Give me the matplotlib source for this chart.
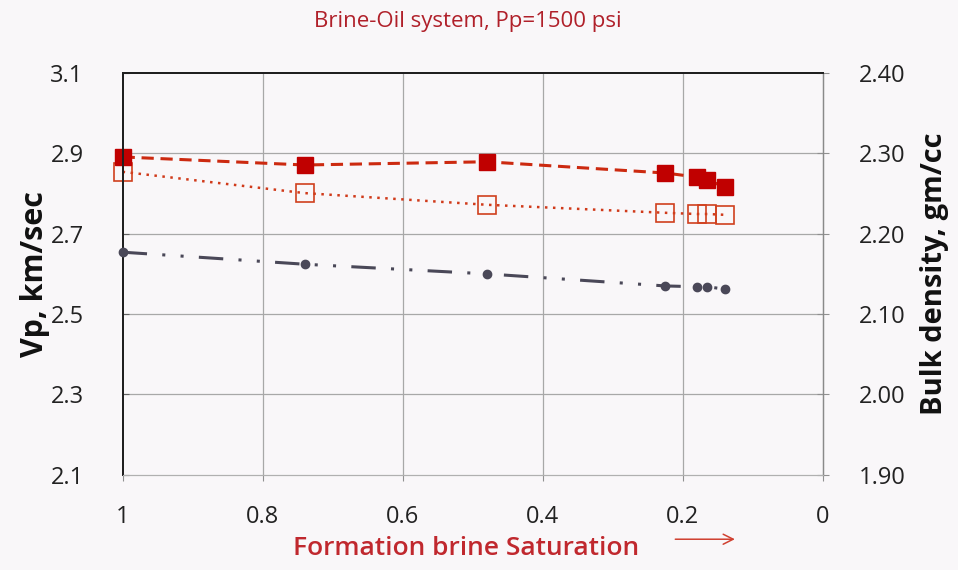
import matplotlib
matplotlib.use("Agg")
import matplotlib.pyplot as plt

plt.rcParams['font.family'] = ['Open Sans', 'DejaVu Sans']

# Formation brine saturation (fraction)
saturation = [1.0, 0.74, 0.48, 0.225, 0.18, 0.165, 0.14]
# P-wave velocity, measured (km/sec)
vp_measured = [2.891, 2.871, 2.879, 2.851, 2.841, 2.834, 2.816]
# P-wave velocity, predicted (km/sec)
vp_predicted = [2.854, 2.801, 2.772, 2.752, 2.749, 2.749, 2.747]
# Bulk density (gm/cc)
bulk_density = [2.177, 2.162, 2.150, 2.135, 2.134, 2.134, 2.131]

x_ticks = [1, 0.8, 0.6, 0.4, 0.2, 0]
x_ticklabels = ['1', '0.8', '0.6', '0.4', '0.2', '0']
vp_ticks = [2.1, 2.3, 2.5, 2.7, 2.9, 3.1]
rho_ticks = [1.90, 2.00, 2.10, 2.20, 2.30, 2.40]

bg = '#f9f7f9'
fig = plt.figure(figsize=(9.58, 5.70), dpi=100, facecolor=bg)
ax = fig.add_axes([0.128, 0.167, 0.731, 0.705], facecolor=bg)
ax2 = ax.twinx()

ax.set_xlim(1, 0)
ax.set_ylim(2.1, 3.1)
ax2.set_ylim(1.90, 2.40)

# grid
for v in [0.8, 0.6, 0.4, 0.2]:
    ax.axvline(v, color='#a8a8a8', lw=0.9, zorder=0)
for v in [2.3, 2.5, 2.7, 2.9]:
    ax.axhline(v, color='#a8a8a8', lw=0.9, zorder=0)

ax.plot(saturation, vp_measured, linestyle=(0, (4, 2.2)), color='#cc2a10', lw=2.2,
        marker='s', markersize=12, markerfacecolor='#c00000', markeredgecolor='#c00000',
        zorder=4, clip_on=False)
ax.plot(saturation, vp_predicted, linestyle=(0, (1, 2.2)), color='#d03a1a', lw=1.8,
        marker='s', markersize=13, markerfacecolor='none', markeredgecolor='#d0401e',
        markeredgewidth=1.2, zorder=3, clip_on=False)
ax2.plot(saturation, bulk_density, linestyle=(0, (8, 5, 1, 5, 1, 5)), color='#4a4858', lw=2.2,
         marker='o', markersize=6, markerfacecolor='#4a4858', markeredgecolor='#4a4858',
         zorder=3, clip_on=False)

ax.set_xticks(x_ticks)
ax.set_xticklabels(x_ticklabels)
ax.set_yticks(vp_ticks)
ax.set_yticklabels([f'{v:.1f}' for v in vp_ticks])
ax2.set_yticks(rho_ticks)
ax2.set_yticklabels([f'{v:.2f}' for v in rho_ticks])

ax.tick_params(axis='x', direction='out', length=4, width=0.8, color='#909090',
               labelsize=17, pad=18, labelcolor='#222222')
ax.tick_params(axis='y', direction='in', length=4, width=0.8, color='#606060',
               labelsize=17, pad=28, labelcolor='#222222')
ax2.tick_params(axis='y', direction='inout', length=8, width=0.8, color='#909090',
                labelsize=17, pad=22, labelcolor='#222222')

for a in (ax, ax2):
    a.spines['left'].set_color('#202020')
    a.spines['left'].set_linewidth(1.4)
    a.spines['top'].set_color('#202020')
    a.spines['top'].set_linewidth(1.4)
    a.spines['right'].set_color('#8a8a8a')
    a.spines['right'].set_linewidth(0.9)
    a.spines['bottom'].set_color('#b0b0b0')
    a.spines['bottom'].set_linewidth(0.8)

ax.set_ylabel('Vp, km/sec', fontsize=22, fontweight='bold', color='#111111', labelpad=0)
ax2.set_ylabel('Bulk density, gm/cc', fontsize=21, fontweight='bold', color='#111111',
               labelpad=10)

fig.text(0.488, 0.962, 'Brine-Oil system, Pp=1500 psi', ha='center', va='center',
         fontsize=16, color='#b0202a')
fig.text(0.486, 0.037, 'Formation brine Saturation', ha='center', va='center',
         fontsize=19, fontweight='semibold', color='#c0282e')
fig.add_artist(matplotlib.patches.FancyArrowPatch(
    (0.702, 0.054), (0.770, 0.054), transform=fig.transFigure,
    arrowstyle='->', mutation_scale=18, color='#d04030', lw=1.1))

fig.savefig('out.png', dpi=100, facecolor=bg)
